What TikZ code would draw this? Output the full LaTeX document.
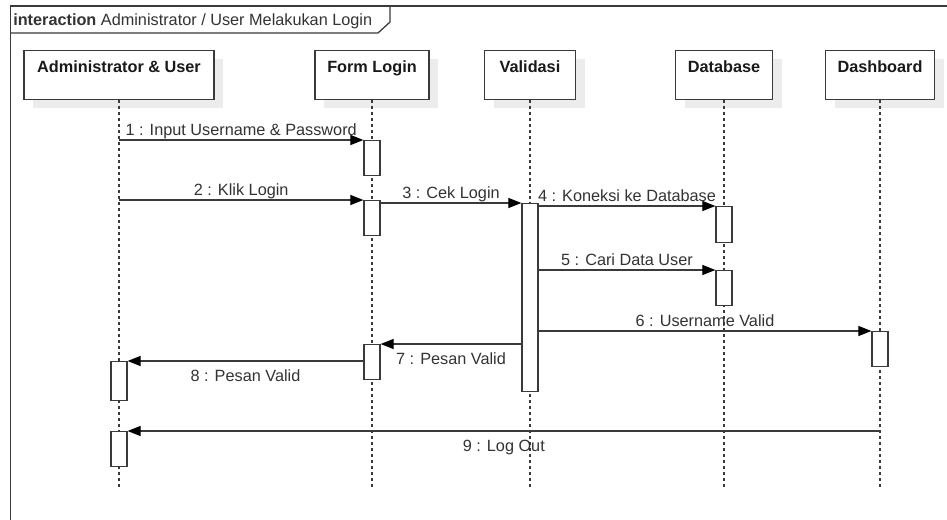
\documentclass[tikz,border=0pt]{standalone}
\usepackage{fontspec}
\setmainfont{Liberation Sans}
\usetikzlibrary{arrows.meta,shadows}
\definecolor{ink}{HTML}{3A3A3A}
\definecolor{txt}{HTML}{333333}
\definecolor{shade}{HTML}{ECECEC}
\begin{document}
\begin{tikzpicture}[x=0.75pt,y=-0.75pt,
  every node/.style={font=\fontsize{12.2}{14}\selectfont, text=txt},
  frameline/.style={draw=ink, line width=0.95pt},
  head/.style={draw=ink, line width=1pt, fill=white, anchor=north, inner sep=0pt,
    text height=16.5pt, text depth=20.25pt, font=\fontsize{12.2}{14}\selectfont\bfseries,
    text=black!90,
    drop shadow={shadow xshift=6.75pt, shadow yshift=-6pt, fill=shade, opacity=1}},
  lifeline/.style={draw=ink, line width=0.8pt, dash pattern=on 2.2pt off 2.3pt},
  actbox/.style={draw=ink, line width=0.9pt, fill=white, anchor=north, inner sep=0pt,
    minimum width=12pt},
  msg/.style={draw=ink, line width=0.8pt,
    -{Triangle[length=9.75pt,width=7.5pt,color=black]}},
  up/.style={midway, anchor=base, inner sep=0pt, yshift=3.75pt},
  down/.style={midway, anchor=base, inner sep=0pt, yshift=-15pt}]
\useasboundingbox (0,0) rectangle (947,519);
\clip (0,0) rectangle (947,519);
\fill[white] (0,0) rectangle (947,519);

% interaction frame and its name tab
\draw[frameline] (10.5,560) -- (10.5,6) -- (980,6);
\draw[frameline] (10.5,33) -- (378,33) -- (390,22) -- (390,6);
\node[anchor=base west, inner sep=0pt] (title) at (13,25)
  {\textbf{interaction} Administrator / User Melakukan Login};

% lifeline heads
\node[head, minimum width=142.5pt] (hA) at (119,50) {Administrator \& User};
\node[head, minimum width=85.5pt]  (hF) at (372,50) {Form Login};
\node[head, minimum width=68.25pt] (hV) at (530,50) {Validasi};
\node[head, minimum width=72.75pt] (hD) at (724,50) {Database};
\node[head, minimum width=81.75pt] (hB) at (880,50) {Dashboard};

% lifeline ends
\coordinate (eA) at (119,487);
\coordinate (eF) at (372,487);
\coordinate (eV) at (530,487);
\coordinate (eD) at (724,487);
\coordinate (eB) at (880,487);

\draw[lifeline] (hA.south) -- (eA);
\draw[lifeline] (hF.south) -- (eF);
\draw[lifeline] (hV.south) -- (eV);
\draw[lifeline] (hD.south) -- (eD);
\draw[lifeline] (hB.south) -- (eB);

% activation bars
\node[actbox, minimum height=26.25pt] (f1) at (372,140) {};
\node[actbox, minimum height=26.25pt] (f2) at (372,200) {};
\node[actbox, minimum height=141pt]   (v1) at (530,203) {};
\node[actbox, minimum height=27pt]    (d1) at (724,206) {};
\node[actbox, minimum height=26.25pt] (d2) at (724,270) {};
\node[actbox, minimum height=26.25pt] (b1) at (880,331) {};
\node[actbox, minimum height=26.25pt] (f3) at (372,344) {};
\node[actbox, minimum height=29.25pt] (a2) at (119,361) {};
\node[actbox, minimum height=26.25pt] (a3) at (119,431) {};

% message sources on bare lifelines
\coordinate (s1) at (119,140);
\coordinate (s2) at (119,200);
\coordinate (s9) at (880,431);

% messages
\draw[msg] (s1) -- (f1.north west) node[up] {1 : Input Username \& Password};
\draw[msg] (s2) -- (f2.north west) node[up] {2 : Klik Login};
\draw[msg] (f2.east |- v1.north) -- (v1.north west) node[up] {3 : Cek Login};
\draw[msg] (v1.east |- d1.north) -- (d1.north west) node[up] {4 : Koneksi ke Database};
\draw[msg] (v1.east |- d2.north) -- (d2.north west) node[up] {5 : Cari Data User};
\draw[msg] (v1.east |- b1.north) -- (b1.north west) node[up] {6 : Username Valid};
\draw[msg] (v1.west |- f3.north) -- (f3.north east) node[down] {7 : Pesan Valid};
\draw[msg] (f3.west |- a2.north) -- (a2.north east) node[down] {8 : Pesan Valid};
\draw[msg] (s9) -- (a3.north east) node[down] {9 : Log Out};
\end{tikzpicture}
\end{document}
